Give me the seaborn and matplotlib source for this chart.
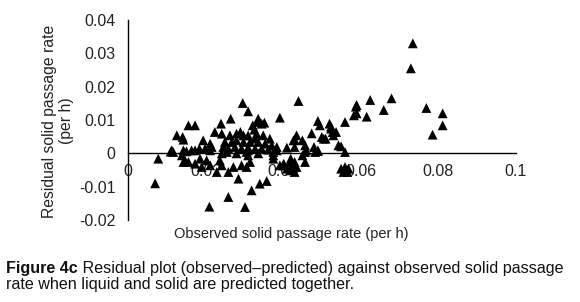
import matplotlib
matplotlib.use("Agg")
import matplotlib.pyplot as plt
import seaborn as sns
import pandas as pd

observed = [
    0.0070, 0.0078, 0.0110, 0.0117, 0.0113, 0.0126, 0.0141, 0.0143, 0.0143, 0.0139,
    0.0143, 0.0147, 0.0151, 0.0156, 0.0156, 0.0164, 0.0173, 0.0173, 0.0173, 0.0184,
    0.0186, 0.0190, 0.0194, 0.0199, 0.0203, 0.0210, 0.0212, 0.0212, 0.0212, 0.0216,
    0.0224, 0.0229, 0.0237, 0.0240, 0.0242, 0.0242, 0.0242, 0.0246, 0.0250, 0.0255,
    0.0259, 0.0259, 0.0259, 0.0263, 0.0265, 0.0268, 0.0272, 0.0276, 0.0280, 0.0280,
    0.0280, 0.0285, 0.0290, 0.0293, 0.0293, 0.0296, 0.0298, 0.0298, 0.0302, 0.0306,
    0.0306, 0.0310, 0.0310, 0.0310, 0.0310, 0.0310, 0.0315, 0.0315, 0.0319, 0.0322,
    0.0326, 0.0328, 0.0328, 0.0332, 0.0335, 0.0336, 0.0336, 0.0336, 0.0340, 0.0345,
    0.0345, 0.0349, 0.0352, 0.0354, 0.0358, 0.0362, 0.0366, 0.0371, 0.0375, 0.0375,
    0.0375, 0.0384, 0.0384, 0.0392, 0.0392, 0.0400, 0.0402, 0.0410, 0.0410, 0.0418,
    0.0418, 0.0420, 0.0427, 0.0427, 0.0427, 0.0430, 0.0430, 0.0430, 0.0430, 0.0435,
    0.0435, 0.0440, 0.0450, 0.0450, 0.0457, 0.0457, 0.0457, 0.0460, 0.0474, 0.0480,
    0.0483, 0.0490, 0.0490, 0.0490, 0.0495, 0.0500, 0.0505, 0.0510, 0.0520, 0.0524,
    0.0524, 0.0528, 0.0537, 0.0530, 0.0543, 0.0550, 0.0550, 0.0556, 0.0560, 0.0560,
    0.0560, 0.0566, 0.0569, 0.0583, 0.0588, 0.0590, 0.0590, 0.0616, 0.0625, 0.0660,
    0.0680, 0.0730, 0.0735, 0.0770, 0.0786, 0.0812, 0.0812,
]
residual = [
    -0.0090, -0.0016, 0.0005, 0.0004, 0.0009, 0.0054, 0.0049, 0.0041, 0.0009, -0.0006,
    -0.0026, -0.0021, 0.0006, 0.0084, -0.0026, 0.0009, 0.0084, 0.0009, -0.0031, 0.0014,
    -0.0016, -0.0041, 0.0039, 0.0014, -0.0021, -0.0160, 0.0029, 0.0009, -0.0036, 0.0019,
    0.0064, -0.0056, -0.0021, 0.0089, 0.0059, 0.0000, -0.0036, 0.0019, 0.0034, 0.0004,
    0.0014, -0.0056, -0.0131, 0.0054, 0.0104, 0.0034, -0.0041, 0.0019, 0.0059, 0.0039,
    0.0000, -0.0076, 0.0064, 0.0014, -0.0036, 0.0151, 0.0054, 0.0034, -0.0161, -0.0041,
    0.0004, 0.0126, 0.0054, 0.0017, 0.0009, -0.0006, 0.0034, -0.0026, -0.0111, 0.0084,
    0.0071, 0.0044, 0.0014, 0.0059, 0.0094, 0.0104, 0.0034, 0.0000, -0.0091, 0.0089,
    0.0014, 0.0054, 0.0092, 0.0029, -0.0083, 0.0011, 0.0044, 0.0024, -0.0006, -0.0016,
    0.0004, 0.0019, 0.0009, 0.0107, -0.0036, -0.0036, -0.0031, 0.0017, -0.0046, -0.0026,
    -0.0051, -0.0016, 0.0039, -0.0036, -0.0041, 0.0041, 0.0019, -0.0026, -0.0056, 0.0054,
    -0.0041, 0.0157, 0.0039, -0.0006, 0.0024, 0.0004, -0.0026, 0.0009, 0.0060, 0.0019,
    0.0004, 0.0097, 0.0009, 0.0007, 0.0084, 0.0049, 0.0044, 0.0044, 0.0089, 0.0080,
    0.0074, 0.0064, 0.0064, 0.0054, 0.0024, 0.0021, -0.0046, -0.0056, 0.0094, 0.0004,
    -0.0041, -0.0056, -0.0046, 0.0114, 0.0140, 0.0145, 0.0120, 0.0110, 0.0160, 0.0130,
    0.0165, 0.0255, 0.0330, 0.0136, 0.0056, 0.0120, 0.0084,
]
x_ticks = [0, 0.02, 0.04, 0.06, 0.08, 0.1]
x_tick_labels = ["0", "0.02", "0.04", "0.06", "0.08", "0.1"]
y_ticks = [-0.02, -0.01, 0, 0.01, 0.02, 0.03, 0.04]
y_tick_labels = ["-0.02", "-0.01", "0", "0.01", "0.02", "0.03", "0.04"]

df = pd.DataFrame({"observed": observed, "residual": residual})

sns.set_style("white")
plt.rcParams["font.family"] = ["Liberation Sans", "DejaVu Sans"]

W, H = 580, 302
fig = plt.figure(figsize=(W / 100, H / 100), dpi=100)
ax = fig.add_axes([128 / W, 1 - 220 / H, (515.5 - 128) / W, 200 / H])

sns.scatterplot(data=df, x="observed", y="residual", marker="^", color="black",
                s=50, edgecolor="none", linewidth=0, ax=ax, zorder=3)

ax.set_xlim(0, 0.1)
ax.set_ylim(-0.02, 0.04)
ax.set_xticks(x_ticks)
ax.set_xticklabels(x_tick_labels)
ax.set_yticks(y_ticks)
ax.set_yticklabels(y_tick_labels)
ax.spines["bottom"].set_position(("data", 0))
ax.spines["top"].set_visible(False)
ax.spines["right"].set_visible(False)
for s in ("left", "bottom"):
    ax.spines[s].set_color("black")
    ax.spines[s].set_linewidth(1.0)
ax.tick_params(axis="x", length=0, pad=8, labelsize=11.5, colors="#222222")
ax.tick_params(axis="y", length=0, pad=9, labelsize=11.5, colors="#222222")
ax.set_xlabel("")
ax.set_ylabel("")

fig.text(58 / W, 1 - 121 / H, "Residual solid passage rate\n(per h)", rotation=90,
         ha="center", va="center", fontsize=11.3, color="#222222", linespacing=1.2)
fig.text(291 / W, 1 - 234 / H, "Observed solid passage rate (per h)",
         ha="center", va="center", fontsize=10.5, color="#222222")

t1 = fig.text(6 / W, 1 - 268 / H, "Figure 4c", ha="left", va="center",
              fontsize=11.6, fontweight="bold", color="#111111")
ax.annotate(" Residual plot (observed\u2013predicted) against observed solid passage",
            xy=(1, 0.5), xycoords=t1, ha="left", va="center", fontsize=11.6,
            color="#111111", annotation_clip=False)
fig.text(6 / W, 1 - 285 / H, "rate when liquid and solid are predicted together.",
         ha="left", va="center", fontsize=11.6, color="#111111")

fig.savefig("out.png", dpi=100)
